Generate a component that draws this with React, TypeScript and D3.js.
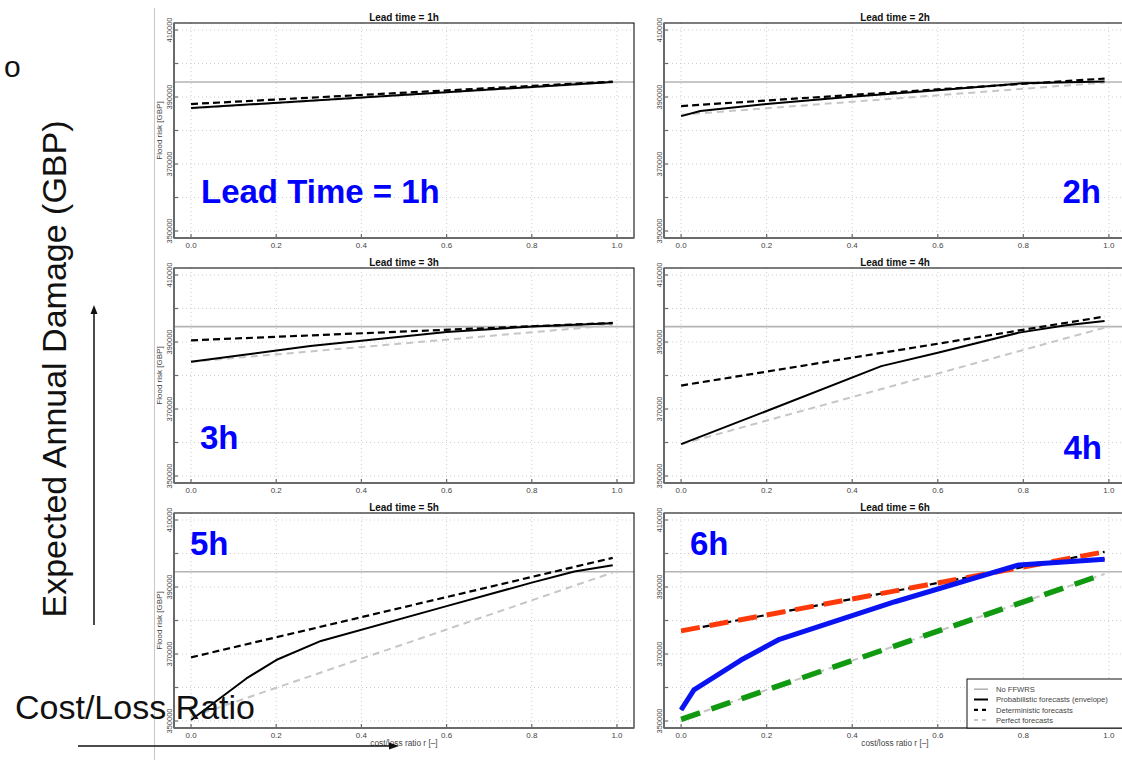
import React from "react";
import * as d3 from "d3";

// ---------- data ----------
const leadTimes = ["1h", "2h", "3h", "4h", "5h", "6h"];
const panelTitles = leadTimes.map((l) => `Lead time = ${l}`);
const bigLabels = ["Lead Time = 1h", "2h", "3h", "4h", "5h", "6h"];

const xTicks = [0, 0.2, 0.4, 0.6, 0.8, 1.0];
const yTicks = [350000, 360000, 370000, 380000, 390000, 400000, 410000];
const yLabelTicks = [350000, 370000, 390000, 410000];

// No FFWRS (horizontal reference) per lead time
const noFfwrs = [394500, 394500, 394600, 394600, 394570, 394570];

// Probabilistic forecasts (envelope): [r, flood risk]
const prob1h = [[0, 386700], [0.99, 394500]];
const prob2h = [[0, 384300], [0.045, 385800], [0.2, 387900], [0.39, 390000], [0.6, 392000], [0.8, 394100], [0.99, 394600]];
const prob3h = [[0, 384100], [0.28, 388800], [0.6, 393000], [0.8, 394600], [0.99, 395600]];
const prob4h = [[0, 359500], [0.2, 369400], [0.468, 382800], [0.6, 386800], [0.79, 392800], [0.9, 395000], [0.99, 396300]];
const prob5h = [[0, 350300], [0.13, 362700], [0.2, 368200], [0.305, 373900], [0.6, 384300], [0.8, 391300], [0.9, 394600], [0.99, 396500]];
const prob6h = [[0, 353300], [0.03, 359300], [0.14, 368200], [0.23, 374400], [0.5, 385600], [0.79, 396600], [0.99, 398300]];

// Deterministic forecasts
const det1h = [[0, 387900], [0.99, 394600]];
const det2h = [[0, 387300], [0.99, 395500]];
const det3h = [[0, 390500], [0.99, 395700]];
const det4h = [[0, 377000], [0.99, 397600]];
const det5h = [[0, 369000], [0.99, 398700]];
const det6h = [[0, 376900], [0.99, 400500]];

// Perfect forecasts
const perf1h = [[0, 386600], [0.99, 394400]];
const perf2h = [[0, 384700], [0.99, 394300]];
const perf3h = [[0, 384100], [0.99, 395000]];
const perf4h = [[0, 359500], [0.99, 394300]];
const perf5h = [[0, 351200], [0.99, 394300]];
const perf6h = [[0, 350500], [0.99, 393900]];

const probSeries = [prob1h, prob2h, prob3h, prob4h, prob5h, prob6h];
const detSeries = [det1h, det2h, det3h, det4h, det5h, det6h];
const perfSeries = [perf1h, perf2h, perf3h, perf4h, perf5h, perf6h];

const legendLabels = ["No FFWRS", "Probabilistic forecasts (envelope)", "Deterministic forecasts", "Perfect forecasts"];

// ---------- layout ----------
const W = 1122;
const H = 760;
const cols = [
  { left: 174, right: 634 },
  { left: 664, right: 1126 },
];
const rowTops = [23, 268, 513];
const BOX_H = 215;
const FONT = "'Liberation Sans', Arial, Helvetica, sans-serif";

const bigLabelPos = [
  { x: 201, y: 203, anchor: "start" },
  { x: 1101, y: 203, anchor: "end" },
  { x: 200, y: 449, anchor: "start" },
  { x: 1102, y: 459, anchor: "end" },
  { x: 190, y: 555, anchor: "start" },
  { x: 690, y: 555, anchor: "start" },
];

function Panel({ i }: { i: number }) {
  const col = cols[i % 2];
  const top = rowTops[Math.floor(i / 2)];
  const bottom = top + BOX_H;
  const x = d3.scaleLinear().domain([-0.04, 1.04]).range([col.left, col.right]);
  const y = d3.scaleLinear().domain([350000, 410000]).range([top + 208, top + 7]);
  const line = d3
    .line<number[]>()
    .x((d) => x(d[0]))
    .y((d) => y(d[1]));
  const clipId = `clip${i}`;
  const isLeft = i % 2 === 0;
  const isBottom = Math.floor(i / 2) === 2;
  const is6 = i === 5;
  return (
    <g>
      <defs>
        <clipPath id={clipId}>
          <rect x={col.left} y={top} width={col.right - col.left} height={BOX_H} />
        </clipPath>
      </defs>
      <rect x={col.left} y={top} width={col.right - col.left} height={BOX_H} fill="#fff" />
      <g clipPath={`url(#${clipId})`}>
        {xTicks.map((t) => (
          <line key={"gx" + t} x1={x(t)} x2={x(t)} y1={top} y2={bottom} stroke="#cfcfcf" strokeWidth={1} strokeDasharray="1,3" />
        ))}
        {yTicks.map((t) => (
          <line key={"gy" + t} x1={col.left} x2={col.right} y1={y(t)} y2={y(t)} stroke="#cfcfcf" strokeWidth={1} strokeDasharray="1,3" />
        ))}
        <line x1={col.left} x2={col.right} y1={y(noFfwrs[i])} y2={y(noFfwrs[i])} stroke="#b4b4b4" strokeWidth={1.6} />
        <path d={line(perfSeries[i]) || ""} fill="none" stroke="#c6c6c6" strokeWidth={2} strokeDasharray="7,5" />
        <path d={line(detSeries[i]) || ""} fill="none" stroke="#000" strokeWidth={2.2} strokeDasharray="7,4" />
        <path d={line(probSeries[i]) || ""} fill="none" stroke="#000" strokeWidth={2} strokeLinejoin="round" />
        {is6 && (
          <g>
            <path d={line(perfSeries[i]) || ""} fill="none" stroke="#119a11" strokeWidth={5.5} strokeDasharray="20,12" />
            <path d={line(detSeries[i]) || ""} fill="none" stroke="#ff3a0a" strokeWidth={5} strokeDasharray="19,10" />
            <path d={line(probSeries[i]) || ""} fill="none" stroke="#0a14f0" strokeWidth={5} strokeLinejoin="round" />
          </g>
        )}
      </g>
      {/* box */}
      <rect x={col.left} y={top} width={col.right - col.left} height={BOX_H} fill="none" stroke="#111" strokeWidth={1.1} />
      {/* axis lines */}
      <line x1={col.left} x2={col.right} y1={bottom} y2={bottom} stroke="#6a6a6a" strokeWidth={2} />
      <line x1={col.left} x2={col.left} y1={top} y2={bottom} stroke="#6a6a6a" strokeWidth={2} />
      {xTicks.map((t) => (
        <g key={"xt" + t}>
          <line x1={x(t)} x2={x(t)} y1={bottom} y2={bottom - 4} stroke="#6a6a6a" strokeWidth={1.2} />
          <text x={x(t)} y={bottom + 9.5} textAnchor="middle" fontSize={8} fill="#444" fontFamily={FONT}>
            {t.toFixed(1)}
          </text>
        </g>
      ))}
      {yTicks.map((t) => (
        <line key={"yt" + t} x1={col.left} x2={col.left + 4} y1={y(t)} y2={y(t)} stroke="#6a6a6a" strokeWidth={1.2} />
      ))}
      {yLabelTicks.map((t) => (
        <text
          key={"yl" + t}
          transform={`translate(${col.left - 2},${y(t)}) rotate(-90)`}
          textAnchor="middle"
          fontSize={7.5}
          fill="#444"
          fontFamily={FONT}
        >
          {t}
        </text>
      ))}
      {isLeft && (
        <text
          transform={`translate(162,${top + BOX_H / 2}) rotate(-90)`}
          textAnchor="middle"
          fontSize={8}
          fill="#444"
          fontFamily={FONT}
        >
          Flood risk [GBP]
        </text>
      )}
      {isBottom && (
        <text x={(col.left + col.right) / 2} y={bottom + 18} textAnchor="middle" fontSize={8.3} fill="#444" fontFamily={FONT}>
          cost/loss ratio r [–]
        </text>
      )}
      <text x={(col.left + col.right) / 2} y={top - 2} textAnchor="middle" fontSize={10} fontWeight="bold" fill="#111" fontFamily={FONT}>
        {panelTitles[i]}
      </text>
      {is6 && (
        <g>
          <rect x={967} y={679} width={170} height={bottom - 679} fill="#fff" stroke="#111" strokeWidth={1} />
          {legendLabels.map((lab, k) => {
            const by = 692 + k * 10.3;
            const styles = [
              { stroke: "#b4b4b4", w: 1.6, dash: "" },
              { stroke: "#000", w: 2, dash: "" },
              { stroke: "#000", w: 2.2, dash: "4,4" },
              { stroke: "#c6c6c6", w: 2, dash: "4,4" },
            ][k];
            return (
              <g key={lab}>
                <line x1={974} x2={988} y1={by - 2.8} y2={by - 2.8} stroke={styles.stroke} strokeWidth={styles.w} strokeDasharray={styles.dash} />
                <text x={996} y={by} fontSize={7.6} fill="#444" fontFamily={FONT}>
                  {lab}
                </text>
              </g>
            );
          })}
        </g>
      )}
    </g>
  );
}

export default function App() {
  return (
    <svg width={W} height={H} style={{ position: "absolute", left: 0, top: 0, background: "#fff" }} xmlns="http://www.w3.org/2000/svg">
      <rect x={0} y={0} width={W} height={H} fill="#fff" />
      <line x1={154.5} x2={154.5} y1={8} y2={H} stroke="#c8c8c8" strokeWidth={1} />
      {leadTimes.map((_, i) => (
        <Panel key={i} i={i} />
      ))}
      {bigLabels.map((lab, i) => (
        <text
          key={lab}
          x={bigLabelPos[i].x}
          y={bigLabelPos[i].y}
          textAnchor={bigLabelPos[i].anchor as any}
          fontSize={33}
          fontWeight="bold"
          fill="#0000ff"
          fontFamily={FONT}
        >
          {lab}
        </text>
      ))}
      {/* slide annotations */}
      <text x={4} y={77} fontSize={30} fill="#111" fontFamily={FONT}>
        o
      </text>
      <text transform="translate(66,369) rotate(-90)" textAnchor="middle" fontSize={34} fill="#111" fontFamily={FONT}>
        Expected Annual Damage (GBP)
      </text>
      <line x1={94} x2={94} y1={625} y2={310} stroke="#111" strokeWidth={1.5} />
      <polygon points="94,305 90.5,314 97.5,314" fill="#111" />
      <text x={15} y={719} fontSize={34} fill="#111" fontFamily={FONT}>
        Cost/Loss Ratio
      </text>
      <line x1={78} x2={392} y1={746} y2={746} stroke="#111" strokeWidth={1.5} />
      <polygon points="399,746 389,742.5 389,749.5" fill="#111" />
    </svg>
  );
}
